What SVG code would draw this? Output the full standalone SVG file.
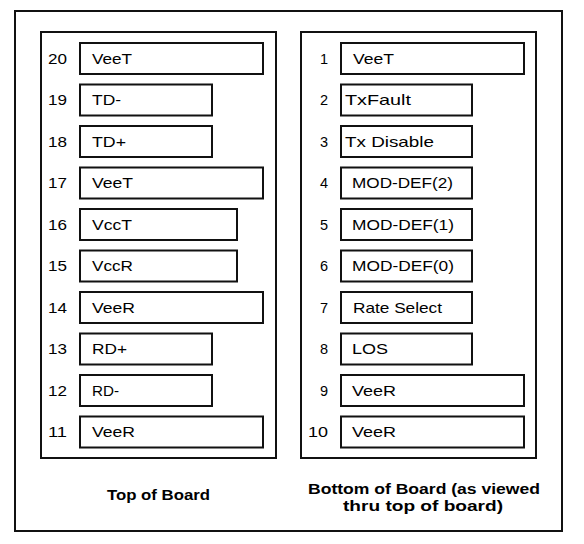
<svg xmlns="http://www.w3.org/2000/svg" width="584" height="544" viewBox="0 0 584 544">
<style>
.box{fill:#fff;stroke:#111;stroke-width:2}
.pin{fill:#fff;stroke:#111;stroke-width:2}
.t{font-family:"Liberation Sans",Arial,sans-serif;font-size:14.5px;fill:#000}
.n{font-family:"Liberation Sans",Arial,sans-serif;font-size:14.5px;fill:#000;text-anchor:end}
.cap{font-family:"Liberation Sans",Arial,sans-serif;font-size:14.5px;font-weight:bold;fill:#000;text-anchor:middle}
</style>
<rect width="584" height="544" fill="#fff"/>
<rect id="outer" class="box" x="15" y="11" width="547" height="520"/>
<g id="top-board">
<rect class="box" x="41" y="32" width="235" height="426"/>
<g id="pin20"><rect class="pin" x="80" y="43" width="183" height="31"/><text class="t" x="48" y="63.5" textLength="19" lengthAdjust="spacingAndGlyphs">20</text><text class="t" x="92" y="63.5" textLength="40" lengthAdjust="spacingAndGlyphs">VeeT</text></g>
<g id="pin19"><rect class="pin" x="80" y="84.5" width="132" height="31"/><text class="t" x="48" y="105" textLength="19" lengthAdjust="spacingAndGlyphs">19</text><text class="t" x="92" y="105" textLength="29" lengthAdjust="spacingAndGlyphs">TD-</text></g>
<g id="pin18"><rect class="pin" x="80" y="126" width="132" height="31"/><text class="t" x="48" y="146.5" textLength="19" lengthAdjust="spacingAndGlyphs">18</text><text class="t" x="92" y="146.5" textLength="34" lengthAdjust="spacingAndGlyphs">TD+</text></g>
<g id="pin17"><rect class="pin" x="80" y="167.5" width="183" height="31"/><text class="t" x="48" y="188" textLength="19" lengthAdjust="spacingAndGlyphs">17</text><text class="t" x="92" y="188" textLength="41" lengthAdjust="spacingAndGlyphs">VeeT</text></g>
<g id="pin16"><rect class="pin" x="80" y="209" width="157" height="31"/><text class="t" x="48" y="229.5" textLength="19" lengthAdjust="spacingAndGlyphs">16</text><text class="t" x="92" y="229.5" textLength="40" lengthAdjust="spacingAndGlyphs">VccT</text></g>
<g id="pin15"><rect class="pin" x="80" y="250.5" width="157" height="31"/><text class="t" x="48" y="271" textLength="19" lengthAdjust="spacingAndGlyphs">15</text><text class="t" x="92" y="271" textLength="41" lengthAdjust="spacingAndGlyphs">VccR</text></g>
<g id="pin14"><rect class="pin" x="80" y="292" width="183" height="31"/><text class="t" x="48" y="312.5" textLength="19" lengthAdjust="spacingAndGlyphs">14</text><text class="t" x="92" y="312.5" textLength="43" lengthAdjust="spacingAndGlyphs">VeeR</text></g>
<g id="pin13"><rect class="pin" x="80" y="333.5" width="132" height="31"/><text class="t" x="48" y="354" textLength="19" lengthAdjust="spacingAndGlyphs">13</text><text class="t" x="92" y="354" textLength="35" lengthAdjust="spacingAndGlyphs">RD+</text></g>
<g id="pin12"><rect class="pin" x="80" y="375" width="132" height="31"/><text class="t" x="48" y="395.5" textLength="19" lengthAdjust="spacingAndGlyphs">12</text><text class="t" x="92" y="395.5" textLength="27" lengthAdjust="spacingAndGlyphs">RD-</text></g>
<g id="pin11"><rect class="pin" x="80" y="416.5" width="183" height="31"/><text class="t" x="48" y="437" textLength="19" lengthAdjust="spacingAndGlyphs">11</text><text class="t" x="92" y="437" textLength="43" lengthAdjust="spacingAndGlyphs">VeeR</text></g>
<text class="cap" x="158.5" y="500" textLength="103" lengthAdjust="spacingAndGlyphs">Top of Board</text>
</g>
<g id="bottom-board">
<rect class="box" x="301" y="32" width="235" height="426"/>
<g id="pin1"><rect class="pin" x="341" y="43" width="183" height="31"/><text class="n" x="328" y="63.5">1</text><text class="t" x="353" y="63.5" textLength="41" lengthAdjust="spacingAndGlyphs">VeeT</text></g>
<g id="pin2"><rect class="pin" x="341" y="84.5" width="131" height="31"/><text class="n" x="328" y="105">2</text><text class="t" x="345" y="105" textLength="66" lengthAdjust="spacingAndGlyphs">TxFault</text></g>
<g id="pin3"><rect class="pin" x="341" y="126" width="131" height="31"/><text class="n" x="328" y="146.5">3</text><text class="t" x="345" y="146.5" textLength="89" lengthAdjust="spacingAndGlyphs">Tx Disable</text></g>
<g id="pin4"><rect class="pin" x="341" y="167.5" width="131" height="31"/><text class="n" x="328" y="188">4</text><text class="t" x="352" y="188" textLength="101" lengthAdjust="spacingAndGlyphs">MOD-DEF(2)</text></g>
<g id="pin5"><rect class="pin" x="341" y="209" width="131" height="31"/><text class="n" x="328" y="229.5">5</text><text class="t" x="352" y="229.5" textLength="102" lengthAdjust="spacingAndGlyphs">MOD-DEF(1)</text></g>
<g id="pin6"><rect class="pin" x="341" y="250.5" width="131" height="31"/><text class="n" x="328" y="271">6</text><text class="t" x="352" y="271" textLength="102" lengthAdjust="spacingAndGlyphs">MOD-DEF(0)</text></g>
<g id="pin7"><rect class="pin" x="341" y="292" width="131" height="31"/><text class="n" x="328" y="312.5">7</text><text class="t" x="353" y="312.5" textLength="89" lengthAdjust="spacingAndGlyphs">Rate Select</text></g>
<g id="pin8"><rect class="pin" x="341" y="333.5" width="131" height="31"/><text class="n" x="328" y="354">8</text><text class="t" x="352" y="354" textLength="36" lengthAdjust="spacingAndGlyphs">LOS</text></g>
<g id="pin9"><rect class="pin" x="341" y="375" width="183" height="31"/><text class="n" x="328" y="395.5">9</text><text class="t" x="352" y="395.5" textLength="44" lengthAdjust="spacingAndGlyphs">VeeR</text></g>
<g id="pin10"><rect class="pin" x="341" y="416.5" width="183" height="31"/><text class="n" x="328" y="437" textLength="20" lengthAdjust="spacingAndGlyphs">10</text><text class="t" x="352" y="437" textLength="44" lengthAdjust="spacingAndGlyphs">VeeR</text></g>
<text class="cap" x="424" y="494" textLength="232" lengthAdjust="spacingAndGlyphs">Bottom of Board (as viewed</text>
<text class="cap" x="423" y="511" textLength="160" lengthAdjust="spacingAndGlyphs">thru top of board)</text>
</g>
</svg>
